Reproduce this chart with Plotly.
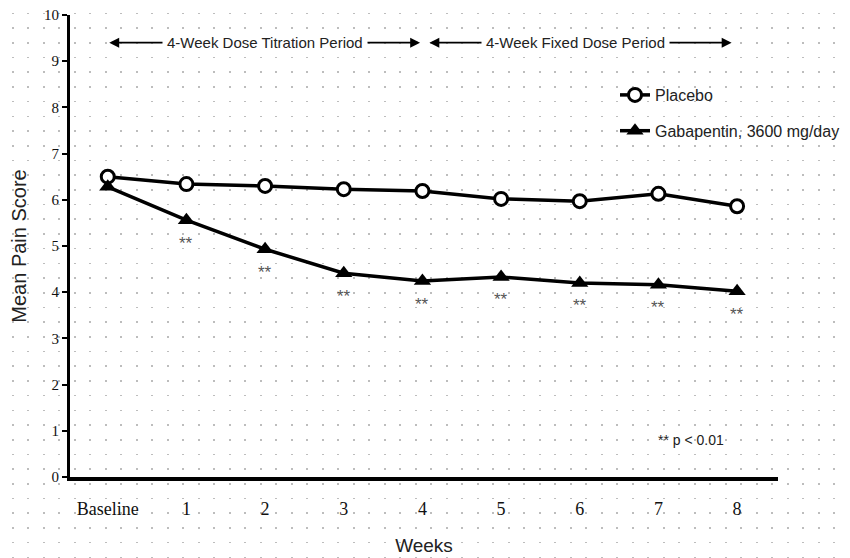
import plotly.graph_objects as go

# ---- data ----
categories = ["Baseline", "1", "2", "3", "4", "5", "6", "7", "8"]
x_pos = [0, 1, 2, 3, 4, 5, 6, 7, 8]
placebo = [6.50, 6.34, 6.30, 6.23, 6.19, 6.02, 5.97, 6.13, 5.86]
gabapentin = [6.28, 5.56, 4.93, 4.41, 4.24, 4.33, 4.20, 4.16, 4.02]
sig_marks = ["", "**", "**", "**", "**", "**", "**", "**", "**"]
y_ticks = [0, 1, 2, 3, 4, 5, 6, 7, 8, 9, 10]

W, H = 850, 558
OFF = 8  # page body margin offset
L, R, T, B = 70 - OFF, 778 - OFF, 15 - OFF, 477 - OFF  # pixel edges in figure coords

fig = go.Figure()

# invisible trace so the full-paper background axes (dot lattice) are drawn first
fig.add_trace(go.Scatter(x=[0], y=[0], mode="markers", marker=dict(size=0.1, color="rgba(0,0,0,0)"),
                         showlegend=False, hoverinfo="skip", xaxis="x", yaxis="y"))

fig.add_trace(go.Scatter(
    x=x_pos, y=placebo, mode="lines+markers", name="Placebo",
    line=dict(color="black", width=3.5),
    marker=dict(symbol="circle", size=13, color="white", line=dict(color="black", width=3)),
    xaxis="x2", yaxis="y2", legendgroup="a"))
fig.add_trace(go.Scatter(
    x=x_pos, y=gabapentin, mode="lines+markers", name="Gabapentin, 3600 mg/day",
    line=dict(color="black", width=3.5),
    marker=dict(symbol="triangle-up", size=15, color="black"),
    xaxis="x2", yaxis="y2", legendgroup="b"))

ann = []
for xv, yv, s in zip(x_pos, gabapentin, sig_marks):
    if s:
        ann.append(dict(x=xv, y=yv, xref="x2", yref="y2", text=s, showarrow=False,
                        yshift=-23, font=dict(family="Liberation Sans", size=17, color="#555555")))

# period arrows
arrow_y = 9.4
for x0, x1 in [(0, 3.97), (4.07, 7.93)]:
    ann.append(dict(x=x1, y=arrow_y, ax=x0, ay=arrow_y, xref="x2", yref="y2", axref="x2", ayref="y2",
                    text="", showarrow=True, arrowhead=2, arrowsize=1.1, arrowwidth=1.8,
                    arrowside="end+start", arrowcolor="black"))
ann.append(dict(x=2.0, y=arrow_y, xref="x2", yref="y2", text="4-Week Dose Titration Period",
                showarrow=False, bgcolor="white", borderpad=4,
                font=dict(family="Liberation Sans", size=15, color="#222222")))
ann.append(dict(x=5.95, y=arrow_y, xref="x2", yref="y2", text="4-Week Fixed Dose Period",
                showarrow=False, bgcolor="white", borderpad=4,
                font=dict(family="Liberation Sans", size=15, color="#222222")))
ann.append(dict(x=7.42, y=0.8, xref="x2", yref="y2", text="** p < 0.01", showarrow=False,
                font=dict(family="Liberation Sans", size=14, color="#222222")))

fig.update_layout(
    width=W, height=H,
    margin=dict(l=0, r=0, t=0, b=0),
    paper_bgcolor="white", plot_bgcolor="rgba(0,0,0,0)",
    showlegend=True,
    legend=dict(x=607 / W, y=1 - 70 / H, xanchor="left", yanchor="top",
                bgcolor="rgba(0,0,0,0)", font=dict(family="Liberation Sans", size=16, color="#222222"),
                tracegroupgap=12, traceorder="grouped", itemwidth=30),
    annotations=ann,
    xaxis=dict(domain=[0, 1], range=[0, W], showgrid=True, dtick=15.5, tick0=4.7,
               gridcolor="#bdbdbd", gridwidth=1.6, griddash="0px,4.6px,1.6px,8.5px",
               showticklabels=False, zeroline=False, showline=False, fixedrange=True),
    yaxis=dict(domain=[0, 1], range=[0, H], showgrid=False, showticklabels=False,
               zeroline=False, showline=False, fixedrange=True),
    xaxis2=dict(domain=[L / W, R / W], anchor="y2", range=[-0.48, 8.52],
                tickvals=x_pos, ticktext=categories, showgrid=False, zeroline=False,
                showline=True, linecolor="black", linewidth=4, ticks="",
                ticklabelstandoff=12,
                tickfont=dict(family="Liberation Serif", size=18, color="#111111"),
                title=dict(text="Weeks", standoff=22,
                           font=dict(family="Liberation Sans", size=19, color="#222222")),
                automargin=False),
    yaxis2=dict(domain=[1 - B / H, 1 - T / H], anchor="x2", range=[0, 10],
                tickvals=y_ticks, showgrid=False, zeroline=False,
                showline=True, linecolor="black", linewidth=3,
                ticks="outside", ticklen=5, tickwidth=2, tickcolor="black",
                ticklabeloverflow="allow",
                tickfont=dict(family="Liberation Serif", size=15, color="#111111"),
                title=dict(text="Mean Pain Score", standoff=18,
                           font=dict(family="Liberation Sans", size=20, color="#222222")),
                automargin=False),
)

fig.write_html("out.html")
